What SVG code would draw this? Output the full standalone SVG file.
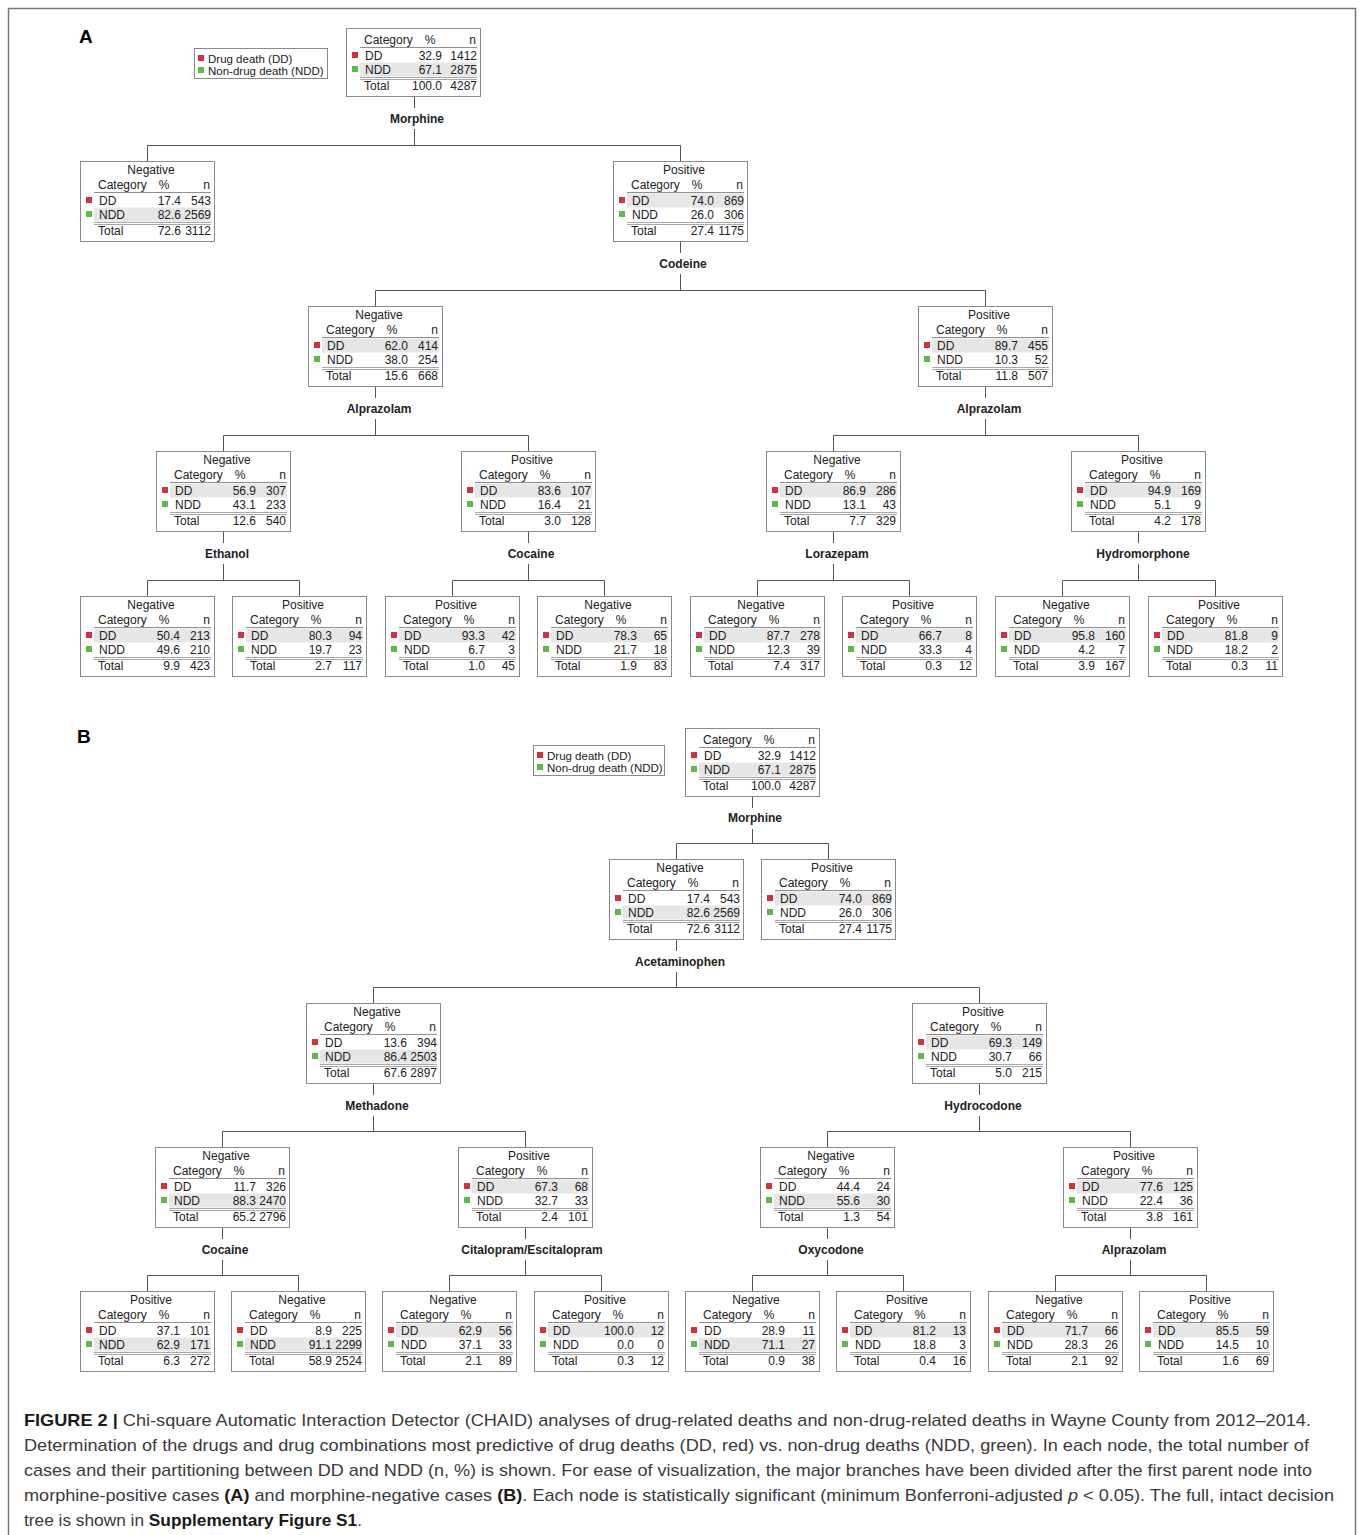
<svg xmlns="http://www.w3.org/2000/svg" xmlns:xlink="http://www.w3.org/1999/xlink" width="1360" height="1535" viewBox="0 0 1360 1535">
<style>
text{font-family:"Liberation Sans",Arial,Helvetica,sans-serif;font-size:12px;fill:#222}
.c{text-anchor:middle}
.e{text-anchor:end}
.lbl{font-weight:bold;text-anchor:middle}
.lg{font-size:11.5px}
.box{fill:none;stroke:#8a8a8a;stroke-width:1}
.hl{fill:#e6e6e6}
.hd{stroke:#8f8f8f;stroke-width:1}
.dl{stroke:#a8a8a8;stroke-width:1}
.sqd{fill:#d6303a}
.sqn{fill:#5db94a}
.conn{fill:none;stroke:#555;stroke-width:1}
.pl{font-size:19px;font-weight:bold;fill:#000}
.cap{font-size:17px;fill:#3a3a3a}
.b{font-weight:bold;fill:#1a1a1a}
.i{font-style:italic}
.frame{fill:none;stroke:#777;stroke-width:1.5}
</style>
<defs>
<g id="frm">
<rect class="box" x="0.5" y="0.5" width="134" height="80"/>
<line class="hd" x1="14" y1="31.5" x2="131" y2="31.5"/>
<line class="dl" x1="14" y1="61.5" x2="131" y2="61.5"/>
<line class="dl" x1="14" y1="63.5" x2="131" y2="63.5"/>
<rect class="sqd" x="6" y="36" width="6" height="6"/>
<rect class="sqn" x="6" y="50" width="6" height="6"/>
</g>
<g id="frmR">
<rect class="box" x="0.5" y="0.5" width="134" height="68"/>
<line class="hd" x1="14" y1="19.5" x2="131" y2="19.5"/>
<line class="dl" x1="14" y1="49.5" x2="131" y2="49.5"/>
<line class="dl" x1="14" y1="51.5" x2="131" y2="51.5"/>
<rect class="sqd" x="6" y="24" width="6" height="6"/>
<rect class="sqn" x="6" y="38" width="6" height="6"/>
</g>
</defs>
<rect x="0" y="0" width="1360" height="1535" fill="#fff"/>
<path class="frame" d="M8.5 1536V8.5H1355.5V1536"/>
<text class="pl" x="79" y="43">A</text>
<text class="pl" x="77" y="743">B</text>

<g id="connectors">
<path class="conn" d="M414.5 96V108M414.5 129V145.5M147.5 145.5H680.5M147.5 145.5V161M680.5 145.5V161"/>
<path class="conn" d="M680.5 241V253M680.5 274V290.5M375.5 290.5H985.5M375.5 290.5V306M985.5 290.5V306"/>
<path class="conn" d="M375.5 386V398M375.5 419V435.5M223.5 435.5H528.5M223.5 435.5V451M528.5 435.5V451"/>
<path class="conn" d="M985.5 386V398M985.5 419V435.5M833.5 435.5H1138.5M833.5 435.5V451M1138.5 435.5V451"/>
<path class="conn" d="M223.5 531V543M223.5 564V580.5M147.5 580.5H299.5M147.5 580.5V596M299.5 580.5V596"/>
<path class="conn" d="M528.5 531V543M528.5 564V580.5M452.5 580.5H604.5M452.5 580.5V596M604.5 580.5V596"/>
<path class="conn" d="M833.5 531V543M833.5 564V580.5M757.5 580.5H909.5M757.5 580.5V596M909.5 580.5V596"/>
<path class="conn" d="M1138.5 531V543M1138.5 564V580.5M1062.5 580.5H1215.5M1062.5 580.5V596M1215.5 580.5V596"/>
<path class="conn" d="M752.5 796V808M752.5 829V843.5M676.5 843.5H828.5M676.5 843.5V859M828.5 843.5V859"/>
<path class="conn" d="M676.5 939V951M676.5 972V987.5M373.5 987.5H979.5M373.5 987.5V1003M979.5 987.5V1003"/>
<path class="conn" d="M373.5 1083V1095M373.5 1116V1131.5M222.5 1131.5H525.5M222.5 1131.5V1147M525.5 1131.5V1147"/>
<path class="conn" d="M979.5 1083V1095M979.5 1116V1131.5M827.5 1131.5H1130.5M827.5 1131.5V1147M1130.5 1131.5V1147"/>
<path class="conn" d="M222.5 1227V1239M222.5 1260V1275.5M147.5 1275.5H298.5M147.5 1275.5V1291M298.5 1275.5V1291"/>
<path class="conn" d="M525.5 1227V1239M525.5 1260V1275.5M449.5 1275.5H601.5M449.5 1275.5V1291M601.5 1275.5V1291"/>
<path class="conn" d="M827.5 1227V1239M827.5 1260V1275.5M752.5 1275.5H903.5M752.5 1275.5V1291M903.5 1275.5V1291"/>
<path class="conn" d="M1130.5 1227V1239M1130.5 1260V1275.5M1055.5 1275.5H1206.5M1055.5 1275.5V1291M1206.5 1275.5V1291"/>
<text class="lbl" x="417" y="123">Morphine</text>
<text class="lbl" x="683" y="268">Codeine</text>
<text class="lbl" x="379" y="413">Alprazolam</text>
<text class="lbl" x="989" y="413">Alprazolam</text>
<text class="lbl" x="227" y="558">Ethanol</text>
<text class="lbl" x="531" y="558">Cocaine</text>
<text class="lbl" x="837" y="558">Lorazepam</text>
<text class="lbl" x="1143" y="558">Hydromorphone</text>
<text class="lbl" x="755" y="822">Morphine</text>
<text class="lbl" x="680" y="966">Acetaminophen</text>
<text class="lbl" x="377" y="1110">Methadone</text>
<text class="lbl" x="983" y="1110">Hydrocodone</text>
<text class="lbl" x="225" y="1254">Cocaine</text>
<text class="lbl" x="532" y="1254">Citalopram/Escitalopram</text>
<text class="lbl" x="831" y="1254">Oxycodone</text>
<text class="lbl" x="1134" y="1254">Alprazolam</text>
</g>

<g id="legendA" transform="translate(194,48)">
<rect class="box" x="0.5" y="0.5" width="133" height="30"/>
<rect class="sqd" x="4" y="7" width="6" height="6"/>
<text class="lg" x="14" y="14.5">Drug death (DD)</text>
<rect class="sqn" x="4" y="19" width="6" height="6"/>
<text class="lg" x="14" y="26.5">Non-drug death (NDD)</text>
</g>
<g id="legendB" transform="translate(533,745)">
<rect class="box" x="0.5" y="0.5" width="131" height="30"/>
<rect class="sqd" x="4" y="7" width="6" height="6"/>
<text class="lg" x="14" y="14.5">Drug death (DD)</text>
<rect class="sqn" x="4" y="19" width="6" height="6"/>
<text class="lg" x="14" y="26.5">Non-drug death (NDD)</text>
</g>

<g id="rootA" transform="translate(346,28)">
<rect class="hl" x="14" y="34.5" width="117" height="14"/><use xlink:href="#frmR"/>
<text x="18" y="16">Category</text><text class="c" x="84" y="16">%</text><text class="e" x="130" y="16">n</text>
<text x="19" y="31.5">DD</text><text class="e" x="96" y="31.5">32.9</text><text class="e" x="131" y="31.5">1412</text>
<text x="19" y="45.5">NDD</text><text class="e" x="96" y="45.5">67.1</text><text class="e" x="131" y="45.5">2875</text>
<text x="18" y="62">Total</text><text class="e" x="96" y="62">100.0</text><text class="e" x="131" y="62">4287</text>
</g>
<g id="rootB" transform="translate(685,728)">
<rect class="hl" x="14" y="34.5" width="117" height="14"/><use xlink:href="#frmR"/>
<text x="18" y="16">Category</text><text class="c" x="84" y="16">%</text><text class="e" x="130" y="16">n</text>
<text x="19" y="31.5">DD</text><text class="e" x="96" y="31.5">32.9</text><text class="e" x="131" y="31.5">1412</text>
<text x="19" y="45.5">NDD</text><text class="e" x="96" y="45.5">67.1</text><text class="e" x="131" y="45.5">2875</text>
<text x="18" y="62">Total</text><text class="e" x="96" y="62">100.0</text><text class="e" x="131" y="62">4287</text>
</g>

<g id="a1n" transform="translate(80,161)"><rect class="hl" x="14" y="46.5" width="117" height="14"/><use xlink:href="#frm"/><text class="c" x="71" y="13">Negative</text><text x="18" y="28">Category</text><text class="c" x="84" y="28">%</text><text class="e" x="130" y="28">n</text><text x="19" y="43.5">DD</text><text class="e" x="101" y="43.5">17.4</text><text class="e" x="131" y="43.5">543</text><text x="19" y="57.5">NDD</text><text class="e" x="101" y="57.5">82.6</text><text class="e" x="131" y="57.5">2569</text><text x="18" y="74">Total</text><text class="e" x="101" y="74">72.6</text><text class="e" x="131" y="74">3112</text></g>
<g id="a1p" transform="translate(613,161)"><rect class="hl" x="14" y="32.5" width="117" height="14"/><use xlink:href="#frm"/><text class="c" x="71" y="13">Positive</text><text x="18" y="28">Category</text><text class="c" x="84" y="28">%</text><text class="e" x="130" y="28">n</text><text x="19" y="43.5">DD</text><text class="e" x="101" y="43.5">74.0</text><text class="e" x="131" y="43.5">869</text><text x="19" y="57.5">NDD</text><text class="e" x="101" y="57.5">26.0</text><text class="e" x="131" y="57.5">306</text><text x="18" y="74">Total</text><text class="e" x="101" y="74">27.4</text><text class="e" x="131" y="74">1175</text></g>
<g id="a2n" transform="translate(308,306)"><rect class="hl" x="14" y="32.5" width="117" height="14"/><use xlink:href="#frm"/><text class="c" x="71" y="13">Negative</text><text x="18" y="28">Category</text><text class="c" x="84" y="28">%</text><text class="e" x="130" y="28">n</text><text x="19" y="43.5">DD</text><text class="e" x="100" y="43.5">62.0</text><text class="e" x="130" y="43.5">414</text><text x="19" y="57.5">NDD</text><text class="e" x="100" y="57.5">38.0</text><text class="e" x="130" y="57.5">254</text><text x="18" y="74">Total</text><text class="e" x="100" y="74">15.6</text><text class="e" x="130" y="74">668</text></g>
<g id="a2p" transform="translate(918,306)"><rect class="hl" x="14" y="32.5" width="117" height="14"/><use xlink:href="#frm"/><text class="c" x="71" y="13">Positive</text><text x="18" y="28">Category</text><text class="c" x="84" y="28">%</text><text class="e" x="130" y="28">n</text><text x="19" y="43.5">DD</text><text class="e" x="100" y="43.5">89.7</text><text class="e" x="130" y="43.5">455</text><text x="19" y="57.5">NDD</text><text class="e" x="100" y="57.5">10.3</text><text class="e" x="130" y="57.5">52</text><text x="18" y="74">Total</text><text class="e" x="100" y="74">11.8</text><text class="e" x="130" y="74">507</text></g>
<g id="a3a" transform="translate(156,451)"><rect class="hl" x="14" y="32.5" width="117" height="14"/><use xlink:href="#frm"/><text class="c" x="71" y="13">Negative</text><text x="18" y="28">Category</text><text class="c" x="84" y="28">%</text><text class="e" x="130" y="28">n</text><text x="19" y="43.5">DD</text><text class="e" x="100" y="43.5">56.9</text><text class="e" x="130" y="43.5">307</text><text x="19" y="57.5">NDD</text><text class="e" x="100" y="57.5">43.1</text><text class="e" x="130" y="57.5">233</text><text x="18" y="74">Total</text><text class="e" x="100" y="74">12.6</text><text class="e" x="130" y="74">540</text></g>
<g id="a3b" transform="translate(461,451)"><rect class="hl" x="14" y="32.5" width="117" height="14"/><use xlink:href="#frm"/><text class="c" x="71" y="13">Positive</text><text x="18" y="28">Category</text><text class="c" x="84" y="28">%</text><text class="e" x="130" y="28">n</text><text x="19" y="43.5">DD</text><text class="e" x="100" y="43.5">83.6</text><text class="e" x="130" y="43.5">107</text><text x="19" y="57.5">NDD</text><text class="e" x="100" y="57.5">16.4</text><text class="e" x="130" y="57.5">21</text><text x="18" y="74">Total</text><text class="e" x="100" y="74">3.0</text><text class="e" x="130" y="74">128</text></g>
<g id="a3c" transform="translate(766,451)"><rect class="hl" x="14" y="32.5" width="117" height="14"/><use xlink:href="#frm"/><text class="c" x="71" y="13">Negative</text><text x="18" y="28">Category</text><text class="c" x="84" y="28">%</text><text class="e" x="130" y="28">n</text><text x="19" y="43.5">DD</text><text class="e" x="100" y="43.5">86.9</text><text class="e" x="130" y="43.5">286</text><text x="19" y="57.5">NDD</text><text class="e" x="100" y="57.5">13.1</text><text class="e" x="130" y="57.5">43</text><text x="18" y="74">Total</text><text class="e" x="100" y="74">7.7</text><text class="e" x="130" y="74">329</text></g>
<g id="a3d" transform="translate(1071,451)"><rect class="hl" x="14" y="32.5" width="117" height="14"/><use xlink:href="#frm"/><text class="c" x="71" y="13">Positive</text><text x="18" y="28">Category</text><text class="c" x="84" y="28">%</text><text class="e" x="130" y="28">n</text><text x="19" y="43.5">DD</text><text class="e" x="100" y="43.5">94.9</text><text class="e" x="130" y="43.5">169</text><text x="19" y="57.5">NDD</text><text class="e" x="100" y="57.5">5.1</text><text class="e" x="130" y="57.5">9</text><text x="18" y="74">Total</text><text class="e" x="100" y="74">4.2</text><text class="e" x="130" y="74">178</text></g>
<g id="a4a" transform="translate(80,596)"><rect class="hl" x="14" y="32.5" width="117" height="14"/><use xlink:href="#frm"/><text class="c" x="71" y="13">Negative</text><text x="18" y="28">Category</text><text class="c" x="84" y="28">%</text><text class="e" x="130" y="28">n</text><text x="19" y="43.5">DD</text><text class="e" x="100" y="43.5">50.4</text><text class="e" x="130" y="43.5">213</text><text x="19" y="57.5">NDD</text><text class="e" x="100" y="57.5">49.6</text><text class="e" x="130" y="57.5">210</text><text x="18" y="74">Total</text><text class="e" x="100" y="74">9.9</text><text class="e" x="130" y="74">423</text></g>
<g id="a4b" transform="translate(232,596)"><rect class="hl" x="14" y="32.5" width="117" height="14"/><use xlink:href="#frm"/><text class="c" x="71" y="13">Positive</text><text x="18" y="28">Category</text><text class="c" x="84" y="28">%</text><text class="e" x="130" y="28">n</text><text x="19" y="43.5">DD</text><text class="e" x="100" y="43.5">80.3</text><text class="e" x="130" y="43.5">94</text><text x="19" y="57.5">NDD</text><text class="e" x="100" y="57.5">19.7</text><text class="e" x="130" y="57.5">23</text><text x="18" y="74">Total</text><text class="e" x="100" y="74">2.7</text><text class="e" x="130" y="74">117</text></g>
<g id="a4c" transform="translate(385,596)"><rect class="hl" x="14" y="32.5" width="117" height="14"/><use xlink:href="#frm"/><text class="c" x="71" y="13">Positive</text><text x="18" y="28">Category</text><text class="c" x="84" y="28">%</text><text class="e" x="130" y="28">n</text><text x="19" y="43.5">DD</text><text class="e" x="100" y="43.5">93.3</text><text class="e" x="130" y="43.5">42</text><text x="19" y="57.5">NDD</text><text class="e" x="100" y="57.5">6.7</text><text class="e" x="130" y="57.5">3</text><text x="18" y="74">Total</text><text class="e" x="100" y="74">1.0</text><text class="e" x="130" y="74">45</text></g>
<g id="a4d" transform="translate(537,596)"><rect class="hl" x="14" y="32.5" width="117" height="14"/><use xlink:href="#frm"/><text class="c" x="71" y="13">Negative</text><text x="18" y="28">Category</text><text class="c" x="84" y="28">%</text><text class="e" x="130" y="28">n</text><text x="19" y="43.5">DD</text><text class="e" x="100" y="43.5">78.3</text><text class="e" x="130" y="43.5">65</text><text x="19" y="57.5">NDD</text><text class="e" x="100" y="57.5">21.7</text><text class="e" x="130" y="57.5">18</text><text x="18" y="74">Total</text><text class="e" x="100" y="74">1.9</text><text class="e" x="130" y="74">83</text></g>
<g id="a4e" transform="translate(690,596)"><rect class="hl" x="14" y="32.5" width="117" height="14"/><use xlink:href="#frm"/><text class="c" x="71" y="13">Negative</text><text x="18" y="28">Category</text><text class="c" x="84" y="28">%</text><text class="e" x="130" y="28">n</text><text x="19" y="43.5">DD</text><text class="e" x="100" y="43.5">87.7</text><text class="e" x="130" y="43.5">278</text><text x="19" y="57.5">NDD</text><text class="e" x="100" y="57.5">12.3</text><text class="e" x="130" y="57.5">39</text><text x="18" y="74">Total</text><text class="e" x="100" y="74">7.4</text><text class="e" x="130" y="74">317</text></g>
<g id="a4f" transform="translate(842,596)"><rect class="hl" x="14" y="32.5" width="117" height="14"/><use xlink:href="#frm"/><text class="c" x="71" y="13">Positive</text><text x="18" y="28">Category</text><text class="c" x="84" y="28">%</text><text class="e" x="130" y="28">n</text><text x="19" y="43.5">DD</text><text class="e" x="100" y="43.5">66.7</text><text class="e" x="130" y="43.5">8</text><text x="19" y="57.5">NDD</text><text class="e" x="100" y="57.5">33.3</text><text class="e" x="130" y="57.5">4</text><text x="18" y="74">Total</text><text class="e" x="100" y="74">0.3</text><text class="e" x="130" y="74">12</text></g>
<g id="a4g" transform="translate(995,596)"><rect class="hl" x="14" y="32.5" width="117" height="14"/><use xlink:href="#frm"/><text class="c" x="71" y="13">Negative</text><text x="18" y="28">Category</text><text class="c" x="84" y="28">%</text><text class="e" x="130" y="28">n</text><text x="19" y="43.5">DD</text><text class="e" x="100" y="43.5">95.8</text><text class="e" x="130" y="43.5">160</text><text x="19" y="57.5">NDD</text><text class="e" x="100" y="57.5">4.2</text><text class="e" x="130" y="57.5">7</text><text x="18" y="74">Total</text><text class="e" x="100" y="74">3.9</text><text class="e" x="130" y="74">167</text></g>
<g id="a4h" transform="translate(1148,596)"><rect class="hl" x="14" y="32.5" width="117" height="14"/><use xlink:href="#frm"/><text class="c" x="71" y="13">Positive</text><text x="18" y="28">Category</text><text class="c" x="84" y="28">%</text><text class="e" x="130" y="28">n</text><text x="19" y="43.5">DD</text><text class="e" x="100" y="43.5">81.8</text><text class="e" x="130" y="43.5">9</text><text x="19" y="57.5">NDD</text><text class="e" x="100" y="57.5">18.2</text><text class="e" x="130" y="57.5">2</text><text x="18" y="74">Total</text><text class="e" x="100" y="74">0.3</text><text class="e" x="130" y="74">11</text></g>

<g id="b1n" transform="translate(609,859)"><rect class="hl" x="14" y="46.5" width="117" height="14"/><use xlink:href="#frm"/><text class="c" x="71" y="13">Negative</text><text x="18" y="28">Category</text><text class="c" x="84" y="28">%</text><text class="e" x="130" y="28">n</text><text x="19" y="43.5">DD</text><text class="e" x="101" y="43.5">17.4</text><text class="e" x="131" y="43.5">543</text><text x="19" y="57.5">NDD</text><text class="e" x="101" y="57.5">82.6</text><text class="e" x="131" y="57.5">2569</text><text x="18" y="74">Total</text><text class="e" x="101" y="74">72.6</text><text class="e" x="131" y="74">3112</text></g>
<g id="b1p" transform="translate(761,859)"><rect class="hl" x="14" y="32.5" width="117" height="14"/><use xlink:href="#frm"/><text class="c" x="71" y="13">Positive</text><text x="18" y="28">Category</text><text class="c" x="84" y="28">%</text><text class="e" x="130" y="28">n</text><text x="19" y="43.5">DD</text><text class="e" x="101" y="43.5">74.0</text><text class="e" x="131" y="43.5">869</text><text x="19" y="57.5">NDD</text><text class="e" x="101" y="57.5">26.0</text><text class="e" x="131" y="57.5">306</text><text x="18" y="74">Total</text><text class="e" x="101" y="74">27.4</text><text class="e" x="131" y="74">1175</text></g>
<g id="b2n" transform="translate(306,1003)"><rect class="hl" x="14" y="46.5" width="117" height="14"/><use xlink:href="#frm"/><text class="c" x="71" y="13">Negative</text><text x="18" y="28">Category</text><text class="c" x="84" y="28">%</text><text class="e" x="130" y="28">n</text><text x="19" y="43.5">DD</text><text class="e" x="101" y="43.5">13.6</text><text class="e" x="131" y="43.5">394</text><text x="19" y="57.5">NDD</text><text class="e" x="101" y="57.5">86.4</text><text class="e" x="131" y="57.5">2503</text><text x="18" y="74">Total</text><text class="e" x="101" y="74">67.6</text><text class="e" x="131" y="74">2897</text></g>
<g id="b2p" transform="translate(912,1003)"><rect class="hl" x="14" y="32.5" width="117" height="14"/><use xlink:href="#frm"/><text class="c" x="71" y="13">Positive</text><text x="18" y="28">Category</text><text class="c" x="84" y="28">%</text><text class="e" x="130" y="28">n</text><text x="19" y="43.5">DD</text><text class="e" x="100" y="43.5">69.3</text><text class="e" x="130" y="43.5">149</text><text x="19" y="57.5">NDD</text><text class="e" x="100" y="57.5">30.7</text><text class="e" x="130" y="57.5">66</text><text x="18" y="74">Total</text><text class="e" x="100" y="74">5.0</text><text class="e" x="130" y="74">215</text></g>
<g id="b3a" transform="translate(155,1147)"><rect class="hl" x="14" y="46.5" width="117" height="14"/><use xlink:href="#frm"/><text class="c" x="71" y="13">Negative</text><text x="18" y="28">Category</text><text class="c" x="84" y="28">%</text><text class="e" x="130" y="28">n</text><text x="19" y="43.5">DD</text><text class="e" x="101" y="43.5">11.7</text><text class="e" x="131" y="43.5">326</text><text x="19" y="57.5">NDD</text><text class="e" x="101" y="57.5">88.3</text><text class="e" x="131" y="57.5">2470</text><text x="18" y="74">Total</text><text class="e" x="101" y="74">65.2</text><text class="e" x="131" y="74">2796</text></g>
<g id="b3b" transform="translate(458,1147)"><rect class="hl" x="14" y="32.5" width="117" height="14"/><use xlink:href="#frm"/><text class="c" x="71" y="13">Positive</text><text x="18" y="28">Category</text><text class="c" x="84" y="28">%</text><text class="e" x="130" y="28">n</text><text x="19" y="43.5">DD</text><text class="e" x="100" y="43.5">67.3</text><text class="e" x="130" y="43.5">68</text><text x="19" y="57.5">NDD</text><text class="e" x="100" y="57.5">32.7</text><text class="e" x="130" y="57.5">33</text><text x="18" y="74">Total</text><text class="e" x="100" y="74">2.4</text><text class="e" x="130" y="74">101</text></g>
<g id="b3c" transform="translate(760,1147)"><rect class="hl" x="14" y="46.5" width="117" height="14"/><use xlink:href="#frm"/><text class="c" x="71" y="13">Negative</text><text x="18" y="28">Category</text><text class="c" x="84" y="28">%</text><text class="e" x="130" y="28">n</text><text x="19" y="43.5">DD</text><text class="e" x="100" y="43.5">44.4</text><text class="e" x="130" y="43.5">24</text><text x="19" y="57.5">NDD</text><text class="e" x="100" y="57.5">55.6</text><text class="e" x="130" y="57.5">30</text><text x="18" y="74">Total</text><text class="e" x="100" y="74">1.3</text><text class="e" x="130" y="74">54</text></g>
<g id="b3d" transform="translate(1063,1147)"><rect class="hl" x="14" y="32.5" width="117" height="14"/><use xlink:href="#frm"/><text class="c" x="71" y="13">Positive</text><text x="18" y="28">Category</text><text class="c" x="84" y="28">%</text><text class="e" x="130" y="28">n</text><text x="19" y="43.5">DD</text><text class="e" x="100" y="43.5">77.6</text><text class="e" x="130" y="43.5">125</text><text x="19" y="57.5">NDD</text><text class="e" x="100" y="57.5">22.4</text><text class="e" x="130" y="57.5">36</text><text x="18" y="74">Total</text><text class="e" x="100" y="74">3.8</text><text class="e" x="130" y="74">161</text></g>
<g id="b4a" transform="translate(80,1291)"><rect class="hl" x="14" y="46.5" width="117" height="14"/><use xlink:href="#frm"/><text class="c" x="71" y="13">Positive</text><text x="18" y="28">Category</text><text class="c" x="84" y="28">%</text><text class="e" x="130" y="28">n</text><text x="19" y="43.5">DD</text><text class="e" x="100" y="43.5">37.1</text><text class="e" x="130" y="43.5">101</text><text x="19" y="57.5">NDD</text><text class="e" x="100" y="57.5">62.9</text><text class="e" x="130" y="57.5">171</text><text x="18" y="74">Total</text><text class="e" x="100" y="74">6.3</text><text class="e" x="130" y="74">272</text></g>
<g id="b4b" transform="translate(231,1291)"><rect class="hl" x="14" y="46.5" width="117" height="14"/><use xlink:href="#frm"/><text class="c" x="71" y="13">Negative</text><text x="18" y="28">Category</text><text class="c" x="84" y="28">%</text><text class="e" x="130" y="28">n</text><text x="19" y="43.5">DD</text><text class="e" x="101" y="43.5">8.9</text><text class="e" x="131" y="43.5">225</text><text x="19" y="57.5">NDD</text><text class="e" x="101" y="57.5">91.1</text><text class="e" x="131" y="57.5">2299</text><text x="18" y="74">Total</text><text class="e" x="101" y="74">58.9</text><text class="e" x="131" y="74">2524</text></g>
<g id="b4c" transform="translate(382,1291)"><rect class="hl" x="14" y="32.5" width="117" height="14"/><use xlink:href="#frm"/><text class="c" x="71" y="13">Negative</text><text x="18" y="28">Category</text><text class="c" x="84" y="28">%</text><text class="e" x="130" y="28">n</text><text x="19" y="43.5">DD</text><text class="e" x="100" y="43.5">62.9</text><text class="e" x="130" y="43.5">56</text><text x="19" y="57.5">NDD</text><text class="e" x="100" y="57.5">37.1</text><text class="e" x="130" y="57.5">33</text><text x="18" y="74">Total</text><text class="e" x="100" y="74">2.1</text><text class="e" x="130" y="74">89</text></g>
<g id="b4d" transform="translate(534,1291)"><rect class="hl" x="14" y="32.5" width="117" height="14"/><use xlink:href="#frm"/><text class="c" x="71" y="13">Positive</text><text x="18" y="28">Category</text><text class="c" x="84" y="28">%</text><text class="e" x="130" y="28">n</text><text x="19" y="43.5">DD</text><text class="e" x="100" y="43.5">100.0</text><text class="e" x="130" y="43.5">12</text><text x="19" y="57.5">NDD</text><text class="e" x="100" y="57.5">0.0</text><text class="e" x="130" y="57.5">0</text><text x="18" y="74">Total</text><text class="e" x="100" y="74">0.3</text><text class="e" x="130" y="74">12</text></g>
<g id="b4e" transform="translate(685,1291)"><rect class="hl" x="14" y="46.5" width="117" height="14"/><use xlink:href="#frm"/><text class="c" x="71" y="13">Negative</text><text x="18" y="28">Category</text><text class="c" x="84" y="28">%</text><text class="e" x="130" y="28">n</text><text x="19" y="43.5">DD</text><text class="e" x="100" y="43.5">28.9</text><text class="e" x="130" y="43.5">11</text><text x="19" y="57.5">NDD</text><text class="e" x="100" y="57.5">71.1</text><text class="e" x="130" y="57.5">27</text><text x="18" y="74">Total</text><text class="e" x="100" y="74">0.9</text><text class="e" x="130" y="74">38</text></g>
<g id="b4f" transform="translate(836,1291)"><rect class="hl" x="14" y="32.5" width="117" height="14"/><use xlink:href="#frm"/><text class="c" x="71" y="13">Positive</text><text x="18" y="28">Category</text><text class="c" x="84" y="28">%</text><text class="e" x="130" y="28">n</text><text x="19" y="43.5">DD</text><text class="e" x="100" y="43.5">81.2</text><text class="e" x="130" y="43.5">13</text><text x="19" y="57.5">NDD</text><text class="e" x="100" y="57.5">18.8</text><text class="e" x="130" y="57.5">3</text><text x="18" y="74">Total</text><text class="e" x="100" y="74">0.4</text><text class="e" x="130" y="74">16</text></g>
<g id="b4g" transform="translate(988,1291)"><rect class="hl" x="14" y="32.5" width="117" height="14"/><use xlink:href="#frm"/><text class="c" x="71" y="13">Negative</text><text x="18" y="28">Category</text><text class="c" x="84" y="28">%</text><text class="e" x="130" y="28">n</text><text x="19" y="43.5">DD</text><text class="e" x="100" y="43.5">71.7</text><text class="e" x="130" y="43.5">66</text><text x="19" y="57.5">NDD</text><text class="e" x="100" y="57.5">28.3</text><text class="e" x="130" y="57.5">26</text><text x="18" y="74">Total</text><text class="e" x="100" y="74">2.1</text><text class="e" x="130" y="74">92</text></g>
<g id="b4h" transform="translate(1139,1291)"><rect class="hl" x="14" y="32.5" width="117" height="14"/><use xlink:href="#frm"/><text class="c" x="71" y="13">Positive</text><text x="18" y="28">Category</text><text class="c" x="84" y="28">%</text><text class="e" x="130" y="28">n</text><text x="19" y="43.5">DD</text><text class="e" x="100" y="43.5">85.5</text><text class="e" x="130" y="43.5">59</text><text x="19" y="57.5">NDD</text><text class="e" x="100" y="57.5">14.5</text><text class="e" x="130" y="57.5">10</text><text x="18" y="74">Total</text><text class="e" x="100" y="74">1.6</text><text class="e" x="130" y="74">69</text></g>

<g id="caption">
<text class="cap" x="24" y="1426" textLength="1287" lengthAdjust="spacingAndGlyphs"><tspan class="b">FIGURE 2 |</tspan> Chi-square Automatic Interaction Detector (CHAID) analyses of drug-related deaths and non-drug-related deaths in Wayne County from 2012–2014.</text>
<text class="cap" x="24" y="1451" textLength="1285" lengthAdjust="spacingAndGlyphs">Determination of the drugs and drug combinations most predictive of drug deaths (DD, red) vs. non-drug deaths (NDD, green). In each node, the total number of</text>
<text class="cap" x="24" y="1476" textLength="1288" lengthAdjust="spacingAndGlyphs">cases and their partitioning between DD and NDD (n, %) is shown. For ease of visualization, the major branches have been divided after the first parent node into</text>
<text class="cap" x="24" y="1501" textLength="1310" lengthAdjust="spacingAndGlyphs">morphine-positive cases <tspan class="b">(A)</tspan> and morphine-negative cases <tspan class="b">(B)</tspan>. Each node is statistically significant (minimum Bonferroni-adjusted <tspan class="i">p</tspan> &lt; 0.05). The full, intact decision</text>
<text class="cap" x="24" y="1526" textLength="338" lengthAdjust="spacingAndGlyphs">tree is shown in <tspan class="b">Supplementary Figure S1</tspan>.</text>
</g>
</svg>
